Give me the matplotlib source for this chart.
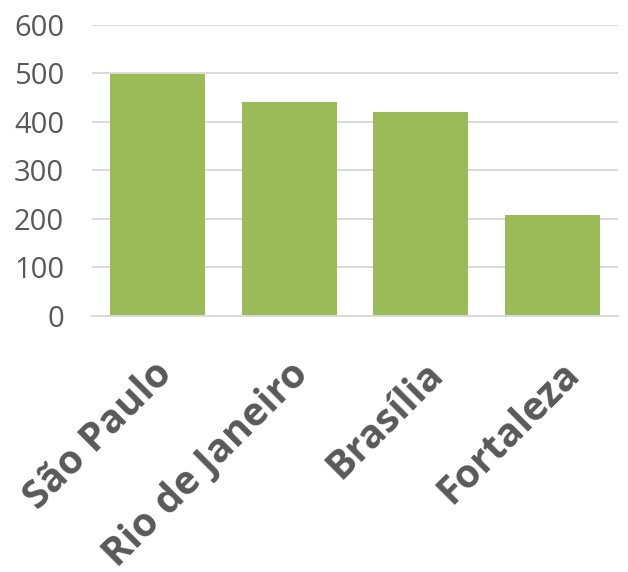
import matplotlib.pyplot as plt

# Data
cities = ["São Paulo", "Rio de Janeiro", "Brasília", "Fortaleza"]
values = [498, 440, 420, 208]
y_ticks = [0, 100, 200, 300, 400, 500, 600]

bar_color = "#9bbb59"
text_color = "#595959"
grid_color = "#d9d9d9"

fig = plt.figure(figsize=(6.28, 5.72), dpi=100)
ax = fig.add_axes([0.1465, 0.4484, 0.8375, 0.5079])

x = range(len(cities))
ax.bar(x, values, width=0.72, color=bar_color, zorder=2)

ax.set_xlim(-0.5, len(cities) - 0.5)
ax.set_ylim(0, 600)
ax.set_yticks(y_ticks)
ax.set_yticklabels([str(t) for t in y_ticks], fontsize=21, color=text_color,
                   family="Open Sans")
ax.yaxis.grid(True, color=grid_color, linewidth=1.4, zorder=0)
ax.tick_params(axis="y", length=0, pad=20)

# category labels: Excel spreads rotated labels slightly wider than the bars
ax.set_xticks(list(x))
ax.set_xticklabels([])
ax.tick_params(axis="x", length=0)
for i, name in enumerate(cities):
    ax.annotate(name, xy=(i, 0), xycoords=("data", "axes fraction"),
                xytext=(22 + 4.4 * i, -39), textcoords="offset pixels",
                rotation=45, ha="right", va="top",
                fontsize=28.5, fontweight="bold", color=text_color,
                family="Open Sans")

for side in ["top", "right", "left"]:
    ax.spines[side].set_visible(False)
ax.spines["bottom"].set_color(grid_color)
ax.spines["bottom"].set_linewidth(1.4)

fig.savefig("out.png", dpi=100)
